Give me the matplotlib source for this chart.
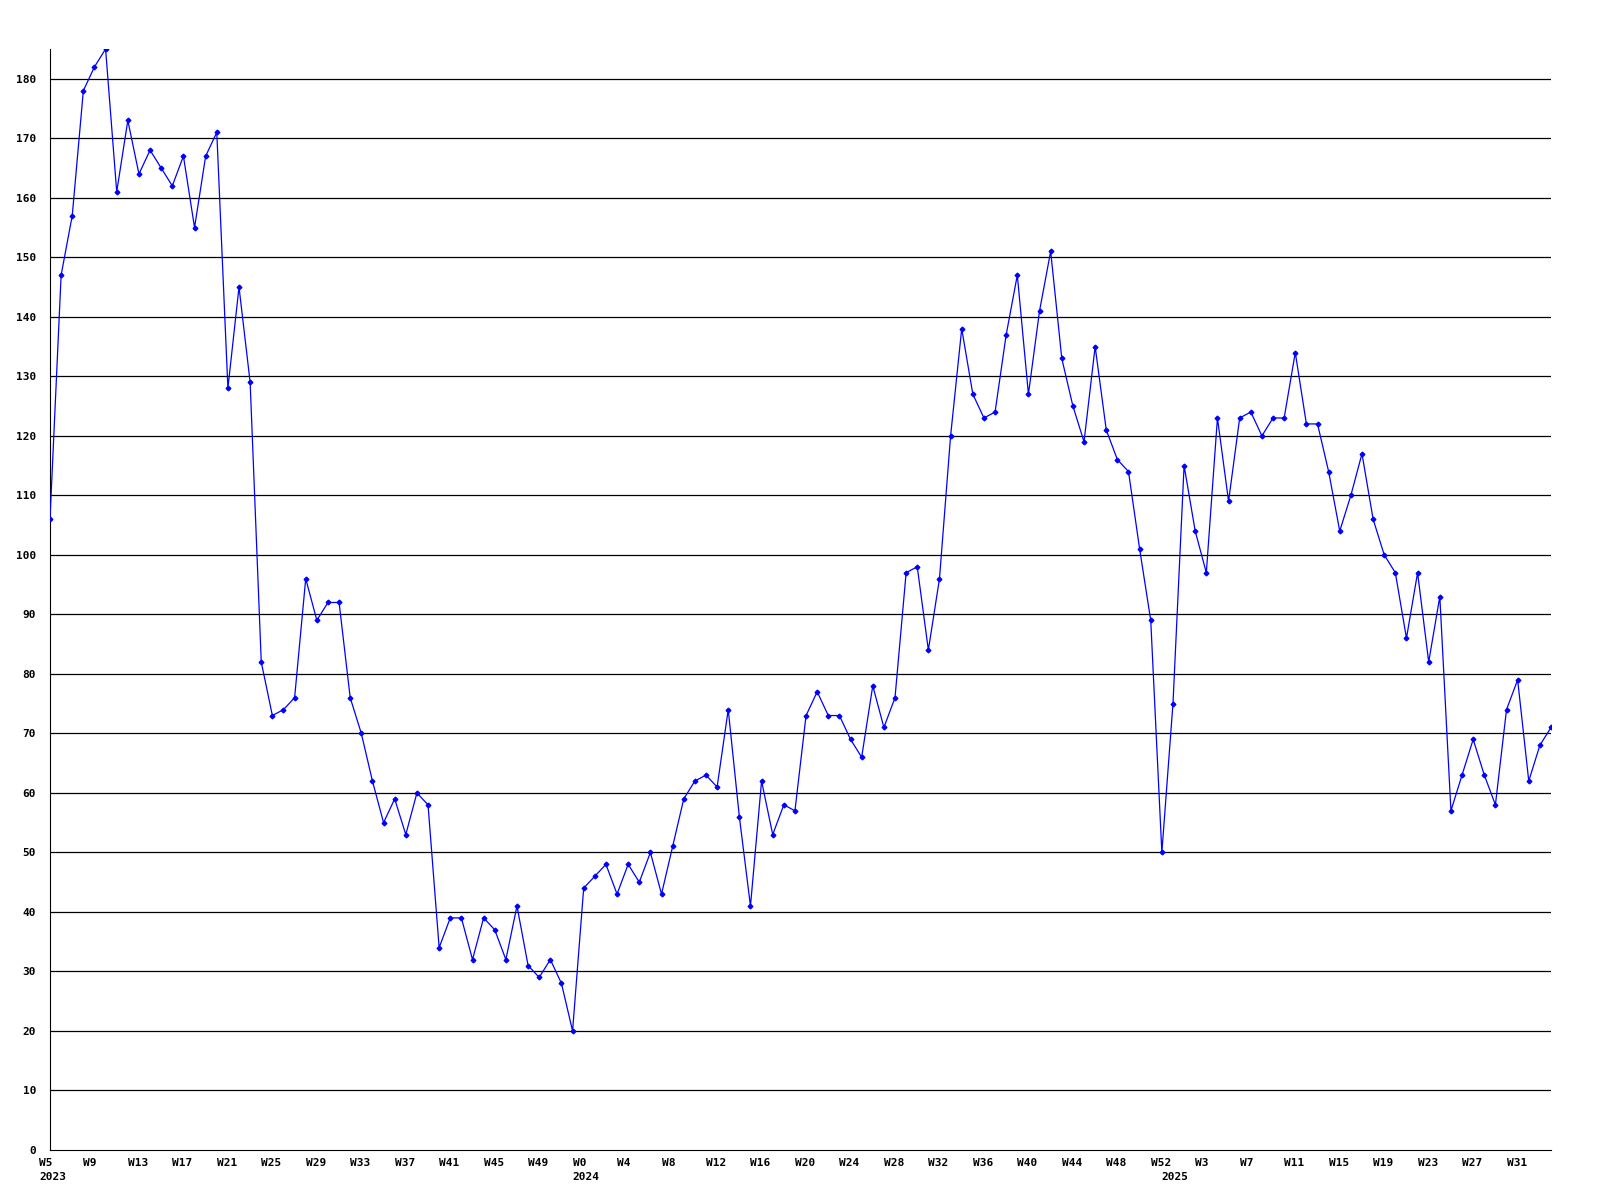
import matplotlib
matplotlib.use("Agg")
import matplotlib.pyplot as plt

# weekly values, 2023 W5 .. 2025 W34
values = [
    106, 147, 157, 178, 182, 185, 161, 173, 164, 168, 165, 162, 167, 155, 167, 171,
    128, 145, 129, 82, 73, 74, 76, 96, 89, 92, 92, 76, 70, 62, 55, 59,
    53, 60, 58, 34, 39, 39, 32, 39, 37, 32, 41, 31, 29, 32, 28, 20,
    44, 46, 48, 43, 48, 45, 50, 43, 51, 59, 62, 63, 61, 74, 56, 41,
    62, 53, 58, 57, 73, 77, 73, 73, 69, 66, 78, 71, 76, 97, 98, 84,
    96, 120, 138, 127, 123, 124, 137, 147, 127, 141, 151, 133, 125, 119, 135, 121,
    116, 114, 101, 89, 50, 75, 115, 104, 97, 123, 109, 123, 124, 120, 123, 123,
    134, 122, 122, 114, 104, 110, 117, 106, 100, 97, 86, 97, 82, 93, 57, 63,
    69, 63, 58, 74, 79, 62, 68, 71,
]

week_labels = [
    "W5", "W9", "W13", "W17", "W21", "W25", "W29", "W33", "W37", "W41", "W45", "W49",
    "W0", "W4", "W8", "W12", "W16", "W20", "W24", "W28", "W32", "W36", "W40", "W44",
    "W48", "W52", "W3", "W7", "W11", "W15", "W19", "W23", "W27", "W31",
]
years = ["2023", "2024", "2025"]
year_start = [0, 48, 101]

FONT = dict(family="DejaVu Sans Mono", fontweight="bold", fontsize=8)

fig = plt.figure(figsize=(16, 12), dpi=100)
ax = fig.add_axes([50 / 1600, 1 - 1150 / 1200, 1501 / 1600, 1101 / 1200])

x = list(range(len(values)))
ax.plot(x, values, color="#0000ff", linewidth=0.9, marker="D", markersize=2.4, zorder=3)

ax.set_xlim(0, len(values) - 1)
ax.set_ylim(0, 185)

ax.set_yticks(range(0, 181, 10))
ax.set_yticklabels([str(v) for v in range(0, 181, 10)], **FONT)
for v in range(10, 181, 10):
    ax.axhline(v, color="black", linewidth=0.9, zorder=1)
ax.tick_params(axis="y", length=0, pad=10)

# week labels sit a little left of their point
ax.set_xticks([])
ticks = list(range(0, len(values), 4))
for t, lab in zip(ticks, week_labels):
    ax.text(t - 1, -0.0118, lab, transform=ax.get_xaxis_transform(),
            ha="left", va="center", **FONT)

for yr, start in zip(years, year_start):
    ax.text(start - 1, -0.0245, yr, transform=ax.get_xaxis_transform(),
            ha="left", va="center", **FONT)

for s in ["top", "right"]:
    ax.spines[s].set_visible(False)
ax.spines["left"].set_color("black")
ax.spines["bottom"].set_color("black")

fig.savefig("out.png", dpi=100, facecolor="white")
